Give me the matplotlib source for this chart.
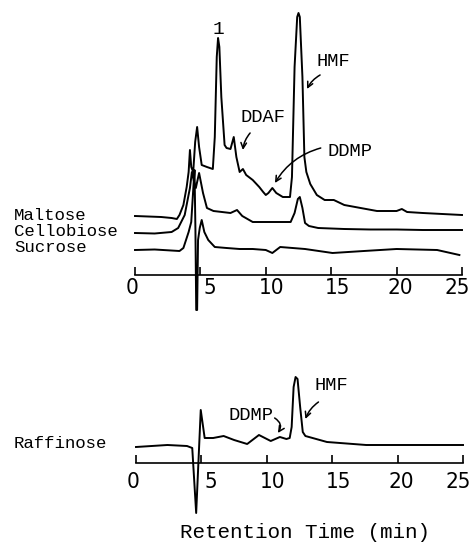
import os
import matplotlib
matplotlib.use('Agg')
import matplotlib.pyplot as plt
from matplotlib import font_manager, transforms

# retention time (min) and detector signal (arbitrary units, relative to each trace baseline)
maltose_t = [0.0, 1.0, 2.0, 2.8, 3.2, 3.4, 3.7, 3.95, 4.1, 4.2, 4.3, 4.45, 4.6, 4.75, 4.9, 5.1,
             5.5, 5.95, 6.1, 6.25, 6.35, 6.45, 6.6, 6.85, 7.0, 7.3, 7.55, 7.75, 8.0, 8.25, 8.5,
             9.0, 9.5, 9.8, 10.0, 10.2, 10.5, 10.8, 11.3, 11.85, 12.0, 12.2, 12.4, 12.5, 12.6,
             12.8, 12.95, 13.1, 13.4, 13.9, 14.5, 15.2, 16.0, 18.5, 20.0, 20.4, 20.8, 22.0, 25.0]
maltose_s = [1, 0.5, 0, -1, -2, 2, 12, 30, 45, 67, 50, 45, 75, 90, 70, 52,
             50, 48, 80, 160, 179, 170, 120, 72, 69, 68, 80, 60, 45, 48, 42,
             37, 30, 25, 22, 24, 29, 24, 20, 20, 40, 150, 200, 204, 200,
             140, 60, 45, 33, 22, 17, 17, 12, 6, 6, 8, 5, 4, 2]

cello_t = [0.0, 1.5, 2.8, 3.3, 3.8, 4.05, 4.2, 4.35, 4.5, 4.65, 4.9, 5.2, 5.5, 6.0, 7.3,
           7.8, 8.2, 9.0, 10.0, 11.9, 12.2, 12.45, 12.6, 12.8, 13.0, 13.3, 14.0, 16.0, 18.0,
           20.0, 22.0, 25.0]
cello_s = [0, -0.5, 1, 5, 18, 35, 45, 61, 52, 45, 60, 40, 25, 22, 20,
           23, 17, 11, 11, 11, 20, 34, 36, 25, 10, 7, 5, 4, 3.5,
           3.5, 3, 3]

sucrose_t = [0.0, 1.5, 3.4, 3.7, 3.9, 4.1, 4.3, 4.45, 4.55, 4.62, 4.68, 4.75, 4.82, 4.95,
             5.1, 5.3, 5.6, 6.1, 7.0, 8.0, 9.0, 10.0, 10.5, 11.1, 13.0, 15.1, 17.5, 20.0,
             23.1, 24.8]
sucrose_s = [0, 0.5, -1, 2, 10, 18, 28, 60, 80, 20, -60, -60, 10, 22,
             30, 18, 10, 3, 2, 1, 1, 0, -3, 3, 1, -3, -1, 1,
             0, -5]

raff_t = [0.0, 2.4, 3.9, 4.3, 4.6, 4.95, 5.25, 5.9, 6.7, 7.5, 8.5, 9.4, 10.3, 11.0, 11.5,
          11.75, 11.9, 12.05, 12.2, 12.35, 12.55, 12.75, 12.95, 13.5, 14.6, 17.6, 20.1, 25.0]
raff_s = [0, 2, 1, -1, -66, 37, 9, 9, 11, 7, 3, 12, 6, 10, 8,
          9, 20, 60, 70, 68, 40, 15, 11, 9, 5, 2, 2, 2]

tick_vals = [0, 5, 10, 15, 20, 25]
tick_labels = ['0', '5', '10', '15', '20', '25']

# baselines of the stacked traces (in panel units)
MALTOSE_BASE = 58
CELLO_BASE = 42
SUCROSE_BASE = 25
RAFF_BASE = 16

# small sideways nudges of the tick labels (pixels), as printed in the original
label_nudge = [-3, 9, 6, 6, 4, -5]

mono = ['Liberation Mono', 'DejaVu Sans Mono']
LW = 1.4


def find_narrow_font():
    # the tick digits are tall and narrow, so look for any condensed sans face
    wanted = ['liberationsansnarrow-regular', 'notosans-condensedlight', 'notosans-condensed.',
              'dejavusanscondensed.', 'robotocondensed-regular', 'robotocondensed-light',
              'opensans-condensedlight', 'opensans_condensed-regular', 'opensans-condensed']
    files = [f.fname for f in font_manager.fontManager.ttflist]
    for w in wanted:
        for fn in files:
            if os.path.basename(fn).lower().startswith(w):
                return fn
    for fn in files:
        b = os.path.basename(fn).lower()
        if ('condensed' in b or 'narrow' in b) and not any(k in b for k in ['bold', 'italic', 'mono', 'black', 'semi', 'extra', 'medium', 'thin']):
            return fn
    return None


narrow_path = find_narrow_font()
if narrow_path:
    tick_font = dict(fontproperties=font_manager.FontProperties(fname=narrow_path, size=16))
else:
    tick_font = dict(fontfamily='DejaVu Sans', fontsize=13)

W, H = 472, 545
fig = plt.figure(figsize=(W / 100, H / 100), dpi=100)

# axes placed in pixel terms: 1 data unit in y = 1 pixel
ax_top = fig.add_axes([135 / W, (H - 315) / H, 327 / W, 310 / H])
ax_bot = fig.add_axes([136 / W, (H - 525) / H, 327 / W, 165 / H])


def setup_axis(ax, ylim, gap):
    ax.set_xlim(0, 25)
    ax.set_ylim(*ylim)
    for s in ['left', 'right', 'top']:
        ax.spines[s].set_visible(False)
    ax.spines['bottom'].set_position(('data', 0))
    ax.spines['bottom'].set_linewidth(1.2)
    ax.set_yticks([])
    ax.set_xticks(tick_vals, labels=[])
    ax.tick_params(axis='x', direction='in', length=6, width=1.2)
    ax.patch.set_visible(False)
    for v, lab, dx in zip(tick_vals, tick_labels, label_nudge):
        tr = transforms.offset_copy(ax.transData, fig=fig, x=dx, y=0, units='dots')
        ax.text(v, -gap, lab, transform=tr, ha='center', va='top', **tick_font)


setup_axis(ax_top, (-40, 270), 3)
setup_axis(ax_bot, (-62, 103), 9)

ax_top.plot(maltose_t, [v + MALTOSE_BASE for v in maltose_s], color='black', lw=LW, clip_on=False)
ax_top.plot(cello_t, [v + CELLO_BASE for v in cello_s], color='black', lw=LW, clip_on=False)
ax_top.plot(sucrose_t, [v + SUCROSE_BASE for v in sucrose_s], color='black', lw=LW, clip_on=False)
ax_bot.plot(raff_t, [v + RAFF_BASE for v in raff_s], color='black', lw=LW, clip_on=False)

# trace names
fig.text(14 / W, 1 - 216 / H, 'Maltose', fontfamily=mono, fontsize=12.5, va='center')
fig.text(14 / W, 1 - 232 / H, 'Cellobiose', fontfamily=mono, fontsize=12.5, va='center')
fig.text(14 / W, 1 - 247 / H, 'Sucrose', fontfamily=mono, fontsize=12.5, va='center')
fig.text(14 / W, 1 - 444 / H, 'Raffinose', fontfamily=mono, fontsize=12.5, va='center')

# peak labels
arrow = dict(arrowstyle='->', lw=1.1, color='black', shrinkA=0, shrinkB=0)
ax_top.text(6.35, 245, '1', fontfamily=mono, fontsize=14, ha='center', va='center')
ax_top.text(15.15, 213, 'HMF', fontfamily=mono, fontsize=13.5, ha='center', va='center')
ax_top.annotate('', xy=(13.15, 186), xytext=(14.15, 200),
                arrowprops=dict(arrow, connectionstyle='arc3,rad=0.15'))
ax_top.text(9.8, 157, 'DDAF', fontfamily=mono, fontsize=13.5, ha='center', va='center')
ax_top.annotate('', xy=(8.25, 125), xytext=(8.8, 142),
                arrowprops=dict(arrow, connectionstyle='arc3,rad=0.15'))
ax_top.text(16.4, 123, 'DDMP', fontfamily=mono, fontsize=13.5, ha='center', va='center')
ax_top.annotate('', xy=(10.7, 92), xytext=(14.2, 127),
                arrowprops=dict(arrow, connectionstyle='arc3,rad=0.2'))

ax_bot.text(14.95, 78, 'HMF', fontfamily=mono, fontsize=13.5, ha='center', va='center')
ax_bot.annotate('', xy=(12.95, 44), xytext=(13.95, 61),
                arrowprops=dict(arrow, connectionstyle='arc3,rad=0.15'))
ax_bot.text(8.8, 47, 'DDMP', fontfamily=mono, fontsize=13.5, ha='center', va='center')
ax_bot.annotate('', xy=(10.85, 30), xytext=(10.6, 45),
                arrowprops=dict(arrow, connectionstyle='arc3,rad=-0.5'))

fig.text(305 / W, 1 - 532 / H, 'Retention Time (min)', fontfamily=mono, fontsize=15,
         ha='center', va='center')

fig.savefig('out.png', dpi=100, facecolor='white')
